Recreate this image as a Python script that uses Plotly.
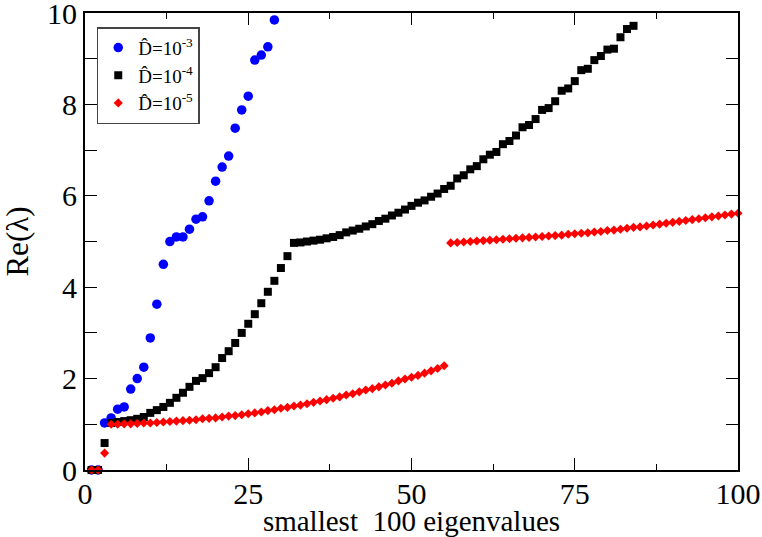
import plotly.graph_objects as go

# ---- data ----
blue_x = list(range(1, 30))
blue_y = [0.0, 0.0, 1.03, 1.14, 1.33, 1.38, 1.77, 2.0, 2.25, 2.89,
          3.63, 4.5, 5.0, 5.1, 5.1, 5.27, 5.49, 5.54, 5.89, 6.32,
          6.63, 6.87, 7.48, 7.88, 8.18, 8.97, 9.08, 9.26, 9.85]

black_x = list(range(1, 85))
black_y = [0.0, 0.0, 0.59, 1.03, 1.05, 1.07, 1.09, 1.12, 1.16, 1.25,
           1.31, 1.38, 1.47, 1.58, 1.69, 1.82, 1.95, 2.01, 2.12, 2.25,
           2.45, 2.60, 2.78, 3.00, 3.20, 3.41, 3.65, 3.90, 4.14, 4.42,
           4.68, 4.97, 4.98, 5.00, 5.02, 5.04, 5.07, 5.10, 5.14, 5.20,
           5.24, 5.28, 5.33, 5.38, 5.45, 5.50, 5.57, 5.63, 5.70, 5.78,
           5.85, 5.90, 5.98, 6.05, 6.15, 6.22, 6.38, 6.45, 6.58, 6.65,
           6.80, 6.90, 6.96, 7.13, 7.20, 7.32, 7.50, 7.55, 7.68, 7.88,
           7.92, 8.07, 8.30, 8.35, 8.51, 8.75, 8.78, 8.97, 9.06, 9.20,
           9.22, 9.47, 9.65, 9.72]

red_x = list(range(1, 101))
red_y = [0.0, 0.0, 0.37, 1.00, 1.00, 1.01, 1.01, 1.02, 1.03, 1.03,
         1.04, 1.05, 1.06, 1.07, 1.08, 1.09, 1.10, 1.12, 1.13, 1.14,
         1.16, 1.18, 1.19, 1.21, 1.23, 1.25, 1.27, 1.30, 1.32, 1.35,
         1.37, 1.40, 1.42, 1.45, 1.48, 1.51, 1.54, 1.57, 1.60, 1.64,
         1.67, 1.71, 1.75, 1.78, 1.82, 1.86, 1.90, 1.95, 1.99, 2.03,
         2.07, 2.12, 2.17, 2.22, 2.28, 4.97, 4.98, 4.99, 5.00, 5.01,
         5.02, 5.03, 5.04, 5.05, 5.06, 5.07, 5.08, 5.09, 5.10, 5.11,
         5.12, 5.13, 5.14, 5.16, 5.17, 5.18, 5.19, 5.21, 5.22, 5.24,
         5.25, 5.27, 5.29, 5.31, 5.32, 5.34, 5.36, 5.38, 5.40, 5.42,
         5.44, 5.46, 5.48, 5.50, 5.52, 5.54, 5.56, 5.58, 5.60, 5.62]

names = ["D\u0302=10<sup>-3</sup>", "D\u0302=10<sup>-4</sup>", "D\u0302=10<sup>-5</sup>"]
x_ticks = [0, 25, 50, 75, 100]
y_ticks = [0, 2, 4, 6, 8, 10]

FONT = "Liberation Serif, Times New Roman, serif"

fig = go.Figure()
fig.add_trace(go.Scatter(x=blue_x, y=blue_y, mode="markers", name=names[0],
                         marker=dict(symbol="circle", size=9.5, color="#0000ff"),
                         cliponaxis=False))
fig.add_trace(go.Scatter(x=black_x, y=black_y, mode="markers", name=names[1],
                         marker=dict(symbol="square", size=8, color="#000000"),
                         cliponaxis=False))
fig.add_trace(go.Scatter(x=red_x, y=red_y, mode="markers", name=names[2],
                         marker=dict(symbol="diamond", size=7, color="#ff0000"),
                         cliponaxis=False))

fig.update_layout(
    width=762, height=537, autosize=False,
    margin=dict(l=85, r=24, t=13, b=67, autoexpand=False),
    paper_bgcolor="white", plot_bgcolor="white",
    font=dict(family=FONT, color="black", size=17),
    showlegend=True,
    legend=dict(x=0.018, y=0.969, xanchor="left", yanchor="top",
                bordercolor="#444444", borderwidth=1.5, bgcolor="white",
                font=dict(family=FONT, size=19), itemwidth=30,
                tracegroupgap=0),
)
fig.update_xaxes(range=[0, 100], tickvals=x_ticks, ticktext=[str(v) for v in x_ticks],
                 automargin=False, ticklabeloverflow="allow", ticklabelstandoff=-4,
                 showgrid=False, zeroline=False,
                 showline=True, linecolor="black", linewidth=2, mirror="ticks",
                 ticks="inside", ticklen=12, tickwidth=1, tickcolor="black",
                 tickfont=dict(family=FONT, size=30),
                 minor=dict(ticks="inside", ticklen=6, dtick=12.5, tickcolor="black", showgrid=False),
                 title=dict(text="smallest\u00a0 100 eigenvalues", font=dict(family=FONT, size=29), standoff=0))
fig.update_yaxes(range=[0, 10.001], tickvals=y_ticks, ticktext=[str(v) for v in y_ticks],
                 automargin=False, ticklabeloverflow="allow",
                 showgrid=False, zeroline=False,
                 showline=True, linecolor="black", linewidth=2, mirror="ticks",
                 ticks="inside", ticklen=12, tickwidth=1, tickcolor="black",
                 tickfont=dict(family=FONT, size=30),
                 minor=dict(ticks="inside", ticklen=12, dtick=1, tickcolor="black", showgrid=False),
                 title=dict(text="Re(\u03bb)", font=dict(family=FONT, size=31), standoff=18))

fig.write_html("out.html")
